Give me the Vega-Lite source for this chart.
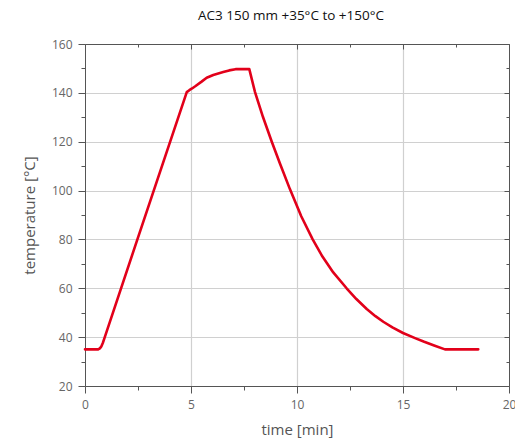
{
  "$schema": "https://vega.github.io/schema/vega-lite/v6.json",
  "width": 424,
  "height": 342,
  "autosize": "none",
  "padding": {"left": 85, "top": 44, "right": 6, "bottom": 52},
  "background": "white",
  "title": {
    "text": "AC3 150 mm +35°C to +150°C",
    "font": "Open Sans",
    "fontSize": 13.5,
    "fontWeight": "normal",
    "color": "#111",
    "anchor": "middle",
    "dx": -6,
    "offset": 16
  },
  "config": {
    "view": {"stroke": null},
    "axis": {
      "labelFont": "Open Sans",
      "labelFontSize": 12,
      "labelColor": "#666",
      "labelFlush": false,
      "titleFont": "Open Sans",
      "titleFontSize": 15,
      "titleFontWeight": "normal",
      "titleColor": "#555",
      "domainColor": "#555",
      "tickColor": "#555",
      "gridColor": "#d0d0d0",
      "gridWidth": 1.2
    }
  },
  "data": {
    "values": [
      {"t": 0, "T": 35},
      {"t": 0.62, "T": 35},
      {"t": 0.7, "T": 35.4},
      {"t": 0.77, "T": 36.2},
      {"t": 0.84, "T": 37.6},
      {"t": 0.91, "T": 39.4},
      {"t": 2.44, "T": 79.2},
      {"t": 4.8, "T": 140.3},
      {"t": 4.92, "T": 141.1},
      {"t": 5.05, "T": 141.8},
      {"t": 5.2, "T": 142.7},
      {"t": 5.5, "T": 144.6},
      {"t": 5.74, "T": 146.2},
      {"t": 6.05, "T": 147.3},
      {"t": 6.52, "T": 148.5},
      {"t": 6.8, "T": 149.2},
      {"t": 7.1, "T": 149.7},
      {"t": 7.75, "T": 149.7},
      {"t": 8.02, "T": 140.3},
      {"t": 8.4, "T": 130},
      {"t": 8.81, "T": 120},
      {"t": 9.2, "T": 111},
      {"t": 9.67, "T": 100.5},
      {"t": 10.2, "T": 89.5},
      {"t": 10.74, "T": 80},
      {"t": 11.2, "T": 73},
      {"t": 11.71, "T": 66.5},
      {"t": 12.34, "T": 60},
      {"t": 12.8, "T": 55.6},
      {"t": 13.29, "T": 51.5},
      {"t": 13.7, "T": 48.6},
      {"t": 14.07, "T": 46.3},
      {"t": 14.5, "T": 44.0},
      {"t": 15.0, "T": 41.7},
      {"t": 15.57, "T": 39.6},
      {"t": 16.0, "T": 38.1},
      {"t": 16.5, "T": 36.5},
      {"t": 16.98, "T": 35},
      {"t": 18.55, "T": 35}
    ]
  },
  "layer": [
    {
      "mark": {"type": "line", "strokeOpacity": 0},
      "encoding": {
        "x": {
          "field": "t", "type": "quantitative",
          "scale": {"domain": [0, 20], "nice": false, "zero": false},
          "axis": {
            "orient": "top", "labels": false, "title": null, "grid": false,
            "values": [0, 2.5, 5, 7.5, 10, 12.5, 15, 17.5, 20],
            "tickSize": {"condition": {"test": "datum.value % 5 === 0", "value": -5}, "value": -3}
          }
        },
        "y": {
          "field": "T", "type": "quantitative",
          "scale": {"domain": [20, 160], "nice": false, "zero": false},
          "axis": {
            "orient": "right", "labels": false, "title": null, "grid": false,
            "values": [20, 30, 40, 50, 60, 70, 80, 90, 100, 110, 120, 130, 140, 150, 160],
            "tickSize": {"condition": {"test": "datum.value % 20 === 0", "value": -5}, "value": -3}
          }
        }
      }
    },
    {
      "mark": {"type": "line", "color": "#e2001a", "strokeWidth": 2.6, "strokeJoin": "round", "strokeCap": "round"},
      "encoding": {
        "x": {
          "field": "t", "type": "quantitative",
          "scale": {"domain": [0, 20], "nice": false, "zero": false},
          "axis": {
            "orient": "bottom", "title": "time [min]",
            "values": [0, 2.5, 5, 7.5, 10, 12.5, 15, 17.5, 20],
            "labelExpr": "datum.value % 5 === 0 ? datum.label : ''",
            "tickSize": {"condition": {"test": "datum.value % 5 === 0", "value": 7}, "value": 4},
            "labelPadding": 6, "titlePadding": 12,
            "grid": true,
            "gridOpacity": {"condition": {"test": "datum.value % 5 === 0 && datum.value > 0 && datum.value < 20", "value": 1}, "value": 0}
          }
        },
        "y": {
          "field": "T", "type": "quantitative",
          "scale": {"domain": [20, 160], "nice": false, "zero": false},
          "axis": {
            "orient": "left", "title": "temperature [°C]",
            "values": [20, 30, 40, 50, 60, 70, 80, 90, 100, 110, 120, 130, 140, 150, 160],
            "labelExpr": "datum.value % 20 === 0 ? datum.label : ''",
            "tickSize": {"condition": {"test": "datum.value % 20 === 0", "value": 7}, "value": 4},
            "labelPadding": 6, "titlePadding": 14,
            "grid": true,
            "gridOpacity": {"condition": {"test": "datum.value % 20 === 0 && datum.value > 20 && datum.value < 160", "value": 1}, "value": 0}
          }
        }
      }
    }
  ],
  "resolve": {"axis": {"x": "independent", "y": "independent"}}
}
